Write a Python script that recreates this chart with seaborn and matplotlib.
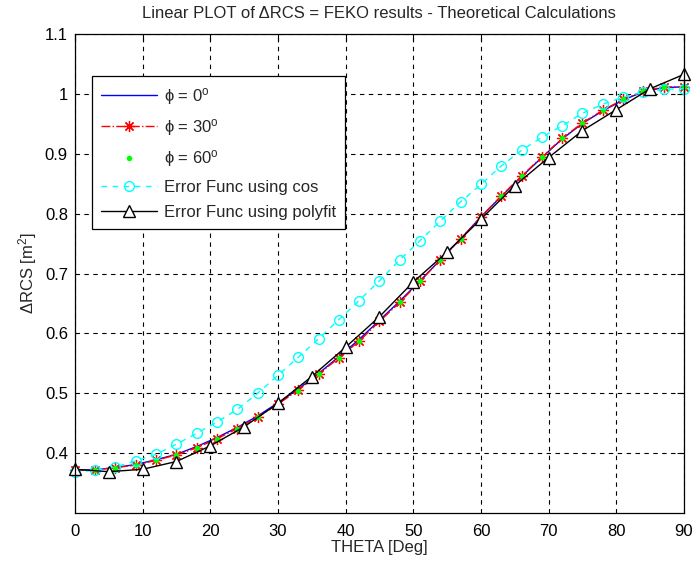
import numpy as np
import pandas as pd
import matplotlib
matplotlib.use("Agg")
import matplotlib.pyplot as plt
import seaborn as sns

# ---- data ----
theta3 = [0, 3, 6, 9, 12, 15, 18, 21, 24, 27, 30, 33, 36, 39, 42, 45, 48, 51, 54, 57,
          60, 63, 66, 69, 72, 75, 78, 81, 84, 87, 90]
phi0 = [0.372, 0.372, 0.376, 0.381, 0.389, 0.398, 0.411, 0.426, 0.443, 0.462, 0.484, 0.507,
        0.533, 0.561, 0.590, 0.622, 0.654, 0.688, 0.723, 0.758, 0.795, 0.829, 0.862, 0.894,
        0.925, 0.951, 0.972, 0.990, 1.004, 1.011, 1.012]
phi30 = [0.372, 0.372, 0.376, 0.380, 0.388, 0.397, 0.409, 0.424, 0.441, 0.460, 0.482, 0.505,
         0.532, 0.559, 0.587, 0.620, 0.652, 0.687, 0.723, 0.758, 0.795, 0.830, 0.863, 0.895,
         0.926, 0.952, 0.973, 0.991, 1.005, 1.012, 1.012]
phi60 = [0.372, 0.372, 0.376, 0.380, 0.388, 0.397, 0.409, 0.424, 0.441, 0.460, 0.482, 0.504,
         0.532, 0.559, 0.587, 0.620, 0.652, 0.687, 0.723, 0.758, 0.795, 0.830, 0.863, 0.895,
         0.926, 0.952, 0.973, 0.991, 1.005, 1.012, 1.012]
cos_err = [0.369, 0.371, 0.377, 0.387, 0.398, 0.415, 0.433, 0.452, 0.473, 0.500, 0.530, 0.560,
           0.591, 0.623, 0.655, 0.688, 0.723, 0.755, 0.788, 0.820, 0.849, 0.880, 0.906, 0.928,
           0.947, 0.968, 0.983, 0.995, 1.003, 1.008, 1.009]
theta5 = [0, 5, 10, 15, 20, 25, 30, 35, 40, 45, 50, 55, 60, 65, 70, 75, 80, 85, 90]
poly_err = [0.373, 0.369, 0.373, 0.386, 0.412, 0.444, 0.483, 0.528, 0.577, 0.628, 0.686, 0.736,
            0.791, 0.847, 0.894, 0.939, 0.974, 1.009, 1.033]

labels = ['\u03d5 = 0$^\\mathrm{o}$', '\u03d5 = 30$^\\mathrm{o}$', '\u03d5 = 60$^\\mathrm{o}$',
          'Error Func using cos', 'Error Func using polyfit']
xticks = [0, 10, 20, 30, 40, 50, 60, 70, 80, 90]
yticks = [0.4, 0.5, 0.6, 0.7, 0.8, 0.9, 1.0, 1.1]
yticklabels = ['0.4', '0.5', '0.6', '0.7', '0.8', '0.9', '1', '1.1']

df3 = pd.DataFrame({'theta': theta3, 'phi0': phi0, 'phi30': phi30, 'phi60': phi60, 'cos': cos_err})
df5 = pd.DataFrame({'theta': theta5, 'poly': poly_err})

sns.set_style('white')
plt.rcParams['font.family'] = ['Liberation Sans', 'DejaVu Sans']
plt.rcParams['mathtext.fontset'] = 'custom'
plt.rcParams['mathtext.rm'] = 'Liberation Sans'
plt.rcParams['mathtext.it'] = 'Liberation Sans'
plt.rcParams['font.size'] = 12

FS = 12
fig = plt.figure(figsize=(6.93, 5.71), dpi=100)
ax = fig.add_axes([0.108, 0.1016, 0.879, 0.8384])

sns.lineplot(data=df3, x='theta', y='phi0', ax=ax, color='#0000ff', linewidth=1.0,
             label=labels[0], sort=False)
sns.lineplot(data=df3, x='theta', y='phi30', ax=ax, color='#ff0000', linewidth=1.0,
             linestyle='-.', marker=(8, 2, 0), markersize=8, markeredgewidth=0.9,
             markeredgecolor='#ff0000', label=labels[1], sort=False)
sns.lineplot(data=df3, x='theta', y='phi60', ax=ax, color='#00ff00', linestyle='none',
             marker='o', markersize=4, markeredgewidth=0, label=labels[2], sort=False)
sns.lineplot(data=df3, x='theta', y='cos', ax=ax, color='#00ffff', linewidth=1.0,
             linestyle=(0, (4, 4)), marker='o', markersize=7, markerfacecolor='none',
             markeredgecolor='#00ffff', markeredgewidth=1.0, label=labels[3], sort=False)
sns.lineplot(data=df5, x='theta', y='poly', ax=ax, color='black', linewidth=1.0,
             marker='^', markersize=8.5, markerfacecolor='white', markeredgecolor='black',
             markeredgewidth=1.0, label=labels[4], sort=False)
for ln in ax.get_lines():
    ln.set_clip_on(False)

ax.set_xlim(0, 90)
ax.set_ylim(0.3, 1.1)
ax.set_xticks(xticks)
ax.set_xticklabels([str(t) for t in xticks])
ax.set_yticks(yticks)
ax.set_yticklabels(yticklabels)
ax.tick_params(direction='in', length=5, width=0.8, top=True, right=True,
               labelsize=FS, colors='black')
ax.tick_params(axis='x', pad=8)
ax.tick_params(axis='y', pad=5)
ax.grid(True, color='black', linestyle=(0, (4, 4)), linewidth=0.8)
for s in ax.spines.values():
    s.set_visible(True)
    s.set_color('black')
    s.set_linewidth(0.9)

ax.set_xlabel('THETA [Deg]', fontsize=FS, labelpad=1)
ax.set_ylabel('\u0394RCS [m$^2$]', fontsize=FS, labelpad=4)
ax.set_title('Linear PLOT of \u0394RCS = FEKO results - Theoretical Calculations',
             fontsize=FS, pad=12)

leg = ax.legend(loc='upper left', bbox_to_anchor=(0.028, 0.912), borderaxespad=0,
                frameon=True, fancybox=False, shadow=False, framealpha=1,
                edgecolor='black', fontsize=FS, handlelength=3.35, handletextpad=0.4,
                labelspacing=0.62, borderpad=0.55)
leg.get_frame().set_linewidth(0.9)
leg.set_zorder(10)

fig.savefig('out.png', dpi=100, facecolor='white')
